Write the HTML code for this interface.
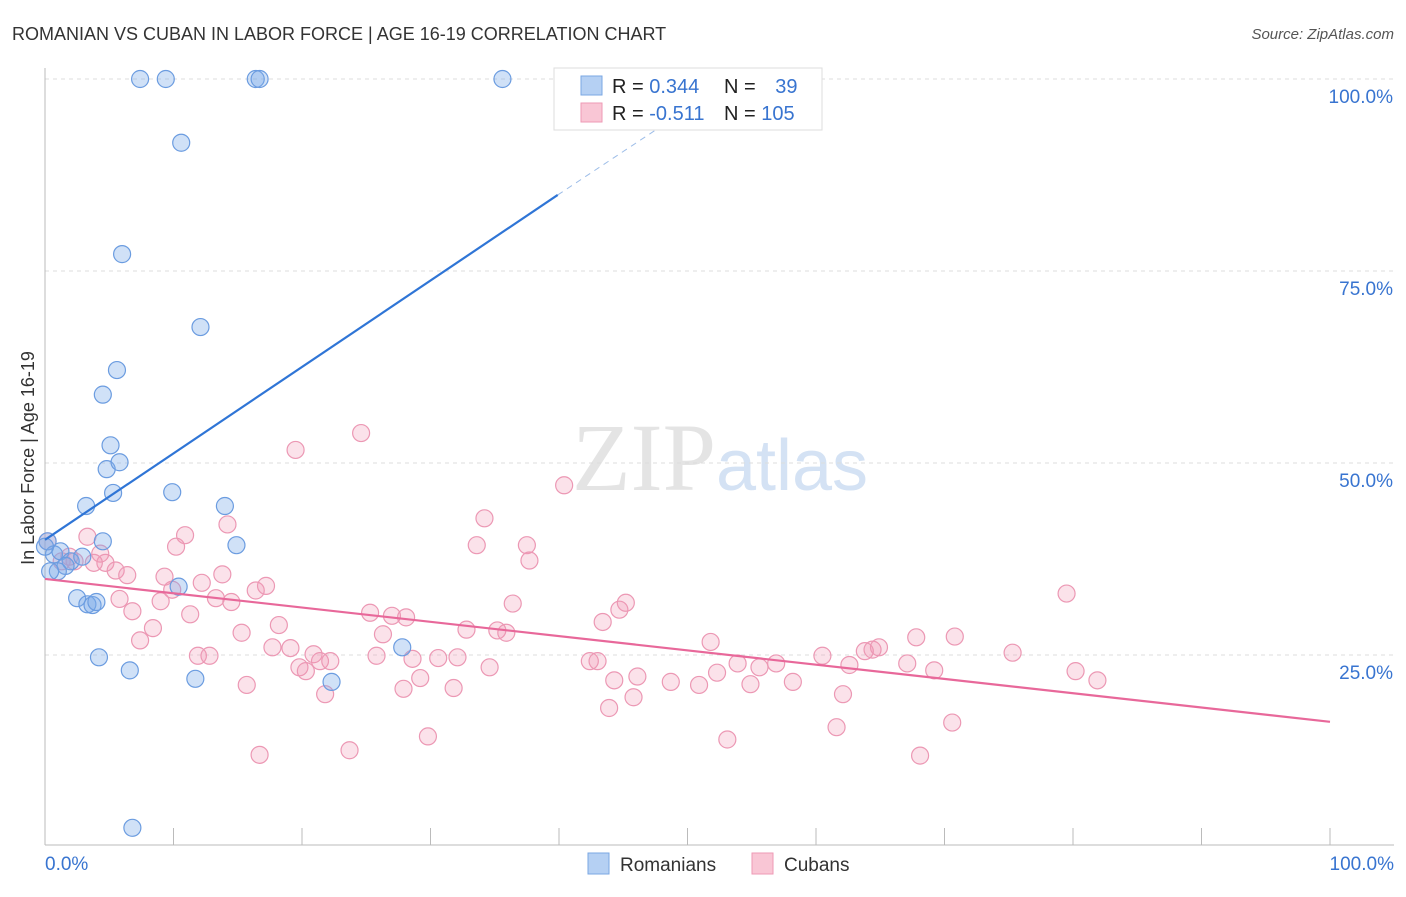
<!DOCTYPE html>
<html><head><meta charset="utf-8"><style>
body{margin:0;background:#fff;font-family:"Liberation Sans",sans-serif}
svg text{font-family:"Liberation Sans",sans-serif}
</style></head><body>
<svg id="c" width="1406" height="892">
<text x="12" y="40" font-size="18" fill="#333">ROMANIAN VS CUBAN IN LABOR FORCE | AGE 16-19 CORRELATION CHART</text>
<text x="1394" y="39" font-size="15" fill="#555" text-anchor="end" font-style="italic">Source: ZipAtlas.com</text>
<text x="720" y="490" font-size="96" fill="#e4e4e4" text-anchor="middle" font-family="Liberation Serif"><tspan font-family="Liberation Serif">ZIP</tspan><tspan fill="#d4e2f4" font-family="Liberation Sans" font-size="72">atlas</tspan></text>
<text transform="translate(34,458) rotate(-90)" font-size="18" fill="#333" text-anchor="middle">In Labor Force | Age 16-19</text>
<g id="grid"></g><g id="pts"></g><g id="lines"></g>
<g>
<rect x="554" y="68" width="268" height="62" fill="#fff" stroke="#ddd"/>
<rect x="581" y="76" width="21" height="19" fill="#b5d0f3" stroke="#7aa7e3"/>
<rect x="581" y="103" width="21" height="19" fill="#f9c6d5" stroke="#ee9ab5"/>
<text x="612" y="93" font-size="20" fill="#222">R = <tspan fill="#3874d0">0.344</tspan></text>
<text x="724" y="93" font-size="20" fill="#222">N = <tspan fill="#3874d0" dx="14">39</tspan></text>
<text x="612" y="120" font-size="20" fill="#222">R = <tspan fill="#3874d0">-0.511</tspan></text>
<text x="724" y="120" font-size="20" fill="#222">N = <tspan fill="#3874d0">105</tspan></text>
</g>
<g>
<rect x="588" y="853" width="21" height="21" fill="#b5d0f3" stroke="#7aa7e3"/>
<text x="620" y="871" font-size="19" fill="#333">Romanians</text>
<rect x="752" y="853" width="21" height="21" fill="#f9c6d5" stroke="#ee9ab5"/>
<text x="784" y="871" font-size="19" fill="#333">Cubans</text>
</g>
<text x="45" y="870" font-size="19" fill="#3874d0">0.0%</text>
<text x="1394" y="870" font-size="19" fill="#3874d0" text-anchor="end">100.0%</text>
</svg>
<script>
const NS="http://www.w3.org/2000/svg";
const yTicks=[100,75,50,25];
const yTickLabels=["100.0%","75.0%","50.0%","25.0%"];
const xTicks=[0,10,20,30,40,50,60,70,80,90,100];
const romX=[7.4,9.4,16.4,16.7,35.6,10.6,6.0,12.1,5.6,4.5,5.1,4.8,5.8,5.3,9.9,3.2,14.0,14.9,0.2,0.7,1.2,2.0,1.6,1.0,2.9,4.5,2.5,3.3,3.7,4.0,4.2,6.6,11.7,22.3,27.8,10.4,6.8,0.4,0.0];
const romY=[100,100,100,100,100,91.7,77.2,67.7,62.1,58.9,52.3,49.2,50.1,46.1,46.2,44.4,44.4,39.3,39.8,38.1,38.5,37.2,36.6,35.9,37.8,39.8,32.4,31.6,31.5,31.9,24.7,23.0,21.9,21.5,26.0,33.9,2.5,35.9,39.1];
const cubX=[0.2,3.3,4.3,4.7,5.5,6.4,3.8,2.3,1.9,1.3,5.8,6.8,7.4,8.4,9.0,9.3,9.9,10.2,10.9,11.3,11.9,12.8,12.2,13.3,13.8,14.2,14.5,15.3,15.7,16.4,16.7,17.2,17.7,18.2,19.1,19.5,19.8,20.3,20.9,21.4,21.8,22.2,23.7,24.6,25.3,25.8,26.3,27.0,28.1,27.9,28.6,29.2,29.8,30.6,31.8,32.1,32.8,33.6,34.2,34.6,35.2,35.9,36.4,37.5,37.7,40.4,42.4,43.0,43.4,43.9,44.3,44.7,45.2,45.8,46.1,48.7,50.9,51.8,52.3,53.1,53.9,54.9,55.6,56.9,58.2,60.5,61.6,62.1,62.6,63.8,64.4,64.9,67.1,67.8,68.1,69.2,70.6,70.8,75.3,79.5,80.2,81.9];
const cubY=[39.8,40.4,38.2,37.0,36.0,35.4,37.0,37.2,37.8,37.2,32.3,30.7,26.9,28.5,32.0,35.2,33.5,39.1,40.6,30.3,24.9,24.9,34.4,32.4,35.5,42.0,31.9,27.9,21.1,33.4,12.0,34.0,26.0,28.9,25.9,51.7,23.4,22.9,25.1,24.2,19.9,24.2,12.6,53.9,30.5,24.9,27.7,30.1,29.9,20.6,24.5,22.0,14.4,24.6,20.7,24.7,28.3,39.3,42.8,23.4,28.2,27.9,31.7,39.3,37.3,47.1,24.2,24.2,29.3,18.1,21.7,30.9,31.8,19.5,22.2,21.5,21.1,26.7,22.7,14.0,23.9,21.2,23.4,23.9,21.5,24.9,15.6,19.9,23.7,25.5,25.7,26.0,23.9,27.3,11.9,23.0,16.2,27.4,25.3,33.0,22.9,21.7];
const blueLine=[0,40.0,39.9,84.9];
const blueDash=[39.9,84.9,53.5,100];
const pinkLine=[0,34.9,100,16.3];
const X0=45,X1=1330,Y0=847,YS=7.68;
const sx=v=>X0+(X1-X0)*v/100, sy=v=>Y0-YS*v;
const grid=document.getElementById('grid'),pts=document.getElementById('pts'),lines=document.getElementById('lines');
function mk(tag,a,parent){const e=document.createElementNS(NS,tag);for(const k in a)e.setAttribute(k,a[k]);parent.appendChild(e);return e;}
yTicks.forEach((t,i)=>{
 const l=mk('line',{x1:45,x2:1394,y1:sy(t),y2:sy(t),stroke:'#ddd','stroke-dasharray':'4,4'},grid);
 
 
 const tx=mk('text',{x:1393,y:sy(t)+24,'font-size':19,fill:'#3874d0','text-anchor':'end'},grid);
 tx.textContent=yTickLabels[i];
 
 
});
const ax=mk('line',{x1:45,x2:1394,y1:845,y2:845,stroke:'#bbb'},grid);


const ay=mk('line',{x1:45,x2:45,y1:68,y2:845,stroke:'#bbb'},grid);


xTicks.forEach(t=>{
 const l=mk('line',{x1:sx(t),x2:sx(t),y1:828,y2:845,stroke:'#bbb'},grid);
 
 
});
cubX.forEach((x,i)=>{
 const c=mk('circle',{cx:sx(x),cy:sy(cubY[i]),r:8.5,fill:'rgba(242,150,180,0.28)',stroke:'#ec98b4','stroke-width':1.2},pts);
 
 
});
romX.forEach((x,i)=>{
 const c=mk('circle',{cx:sx(x),cy:sy(romY[i]),r:8.5,fill:'rgba(120,170,232,0.35)',stroke:'#6b9ce0','stroke-width':1.2},pts);
 
 
});
const b=mk('line',{x1:sx(blueLine[0]),y1:sy(blueLine[1]),x2:sx(blueLine[2]),y2:sy(blueLine[3]),stroke:'#2f75d6','stroke-width':2.2},lines);


const bd=mk('line',{x1:sx(blueDash[0]),y1:sy(blueDash[1]),x2:sx(blueDash[2]),y2:sy(blueDash[3]),stroke:'#9dbde8','stroke-width':1,'stroke-dasharray':'6,5'},lines);


const p=mk('line',{x1:sx(pinkLine[0]),y1:sy(pinkLine[1]),x2:sx(pinkLine[2]),y2:sy(pinkLine[3]),stroke:'#e8689a','stroke-width':2.2},lines);


</script>
</body></html>
